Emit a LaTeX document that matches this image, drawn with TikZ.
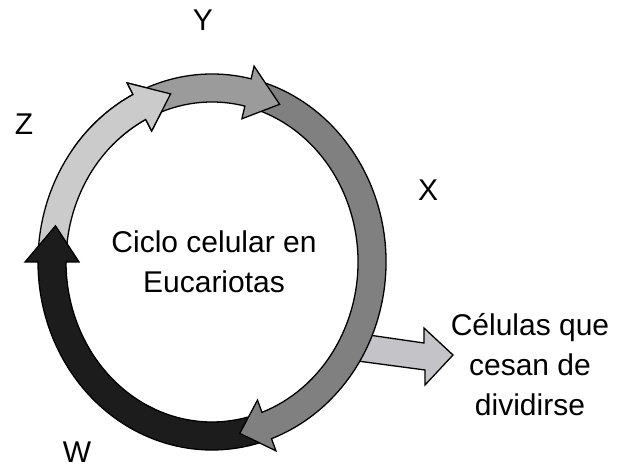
\documentclass[tikz,border=0pt]{standalone}
\usepackage{fontspec}
\setmainfont{Liberation Sans}
\usepackage{tikz}
\usetikzlibrary{calc}
\definecolor{phaseZ}{HTML}{CBCBCB}
\definecolor{phaseY}{HTML}{9B9B9B}
\definecolor{phaseX}{HTML}{808080}
\definecolor{phaseW}{HTML}{1C1C1C}
\definecolor{exitCol}{HTML}{C4C4C8}

% curved ring arrow: colour, tail angle, head base angle, tip angle
\newcommand{\ringarrow}[4]{%
  \path[seg=#1] ($(c)+(#2:174pt and 188pt)$)
    arc[start angle=#2,end angle=#3,x radius=174pt,y radius=188pt]
    -- ($(c)+(#3:187pt and 201pt)$) -- ($(c)+(#4:160pt and 174pt)$)
    -- ($(c)+(#3:133pt and 147pt)$) -- ($(c)+(#3:146pt and 160pt)$)
    arc[start angle=#3,end angle=#2,x radius=146pt,y radius=160pt] -- cycle;}

\begin{document}
\begin{tikzpicture}[x=1pt,y=1pt,
  seg/.style={draw=black,line width=1.3pt,line join=miter,fill=#1},
  lbl/.style={font=\fontsize{30}{40}\selectfont,inner sep=0pt,align=center},
]
\useasboundingbox (0,0) rectangle (628,468);
\coordinate (c) at (212,206);

% exit arrow, tail hidden under the ring
\path[seg=exitCol] (355,135) -- (424,125) -- (424,140) -- (453,113)
  -- (425,83) -- (425,98) -- (350,108) -- cycle;

\ringarrow{phaseZ}{180}{117}{105}
\ringarrow{phaseW}{290}{180}{168}
\ringarrow{phaseX}{77}{-70}{-80}
\ringarrow{phaseY}{117}{77}{65}
\begin{scope}
  \clip (0,320) rectangle (240,468);
  \ringarrow{phaseZ}{180}{117}{105}
\end{scope}

\node[lbl] (center) at (214,206) {Ciclo celular en\\Eucariotas};
\node[lbl] (exit) at (530,103) {Células que\\cesan de\\dividirse};

\node[lbl] (labY) at (203,448) {Y};
\node[lbl] (labZ) at (24,344) {Z};
\node[lbl] (labX) at (428,278) {X};
\node[lbl] (labW) at (77,16) {W};
\end{tikzpicture}
\end{document}
